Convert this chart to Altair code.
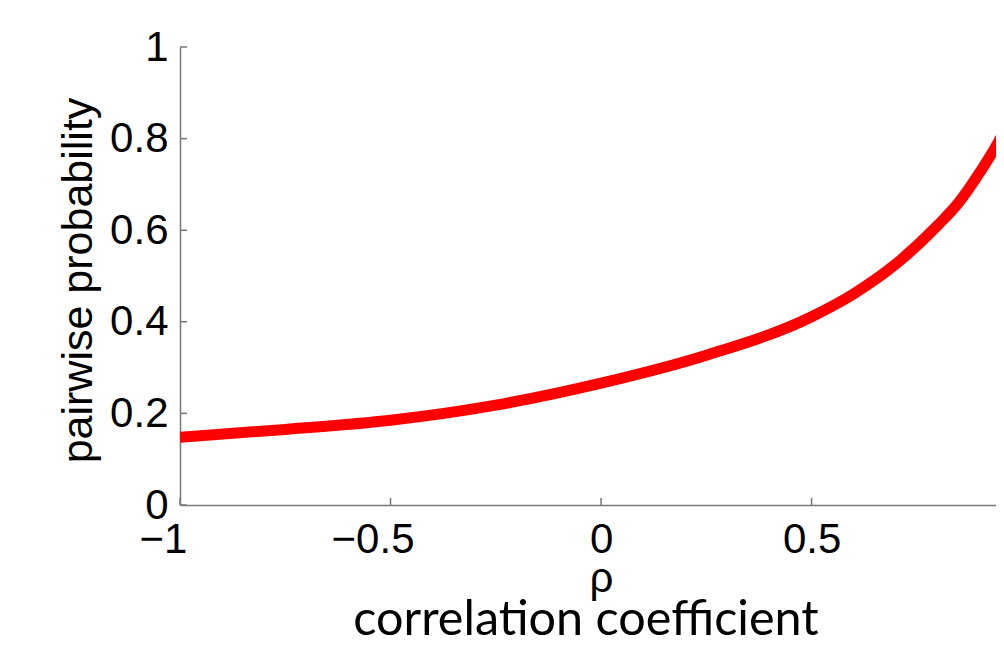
import altair as alt
import pandas as pd

# curve values
rho = [-1.0, -0.75, -0.5, -0.25, 0.0, 0.25, 0.5, 0.6, 0.7, 0.8, 0.85, 0.9, 0.95, 0.97]
prob = [0.148, 0.165, 0.185, 0.218, 0.266, 0.327, 0.411, 0.461, 0.526, 0.611, 0.661, 0.727, 0.803, 0.84]

x_ticks = [-1, -0.5, 0, 0.5]
y_ticks = [0, 0.2, 0.4, 0.6, 0.8, 1]
x_domain = [-1, 0.938]
y_domain = [0, 1]
caption = ["correlation coefficient"]

W, H = 816, 458
AX = "#777777"
FONT = "Liberation Sans"

df = pd.DataFrame({"rho": rho, "p": prob})
xt = pd.DataFrame({"rho": x_ticks})
yt = pd.DataFrame({"p": y_ticks})
cap = pd.DataFrame({"t": caption})

xscale = alt.Scale(domain=x_domain, nice=False, zero=False)
yscale = alt.Scale(domain=y_domain, nice=False, zero=False)

xaxis = alt.Axis(
    values=x_ticks, format="~g", title="ρ", titleX=421, titleY=86,
    titleBaseline="alphabetic", titleAlign="center", labelPadding=14,
    labelOffset={"condition": [{"test": "datum.value == -1", "value": -17},
                               {"test": "datum.value == -0.5", "value": -18}],
                 "value": 0},
)
yaxis = alt.Axis(values=y_ticks, format="~g", title="pairwise probability",
                 titleAngle=270, titleX=-89, titleY=233, titleFontSize=43,
                 titleBaseline="alphabetic", titleAlign="center", labelPadding=12)

line = alt.Chart(df).mark_line(color="#ff0000", strokeWidth=11, clip=True,
                               interpolate="monotone").encode(
    x=alt.X("rho:Q", scale=xscale, axis=xaxis),
    y=alt.Y("p:Q", scale=yscale, axis=yaxis),
)

xtick_marks = alt.Chart(xt).mark_rule(color=AX, strokeWidth=1.5).encode(
    x=alt.X("rho:Q", scale=xscale, axis=xaxis),
    y=alt.value(H), y2=alt.value(H - 7),
)
ytick_marks = alt.Chart(yt).mark_rule(color=AX, strokeWidth=1.5).encode(
    y=alt.Y("p:Q", scale=yscale, axis=yaxis),
    x=alt.value(0), x2=alt.value(7),
)
caption_text = alt.Chart(cap).mark_text(
    font="Lato", fontSize=48.5, color="black", align="center",
    baseline="alphabetic"
).encode(text="t:N", x=alt.value(406), y=alt.value(588))

chart = alt.layer(line, xtick_marks, ytick_marks, caption_text).properties(
    width=W, height=H, autosize="none",
    padding={"left": 172, "top": 39, "right": 0, "bottom": 145},
).configure_view(stroke=None).configure_axis(
    ticks=False, grid=False, domainColor=AX, domainWidth=1.5,
    labelFont=FONT, labelFontSize=42, labelColor="black", labelFlush=False,
    labelOverlap=False, titleFont=FONT, titleFontSize=42,
    titleFontWeight="normal", titleColor="black",
)

chart.save("out.html", embed_options={"renderer": "svg", "actions": False})
